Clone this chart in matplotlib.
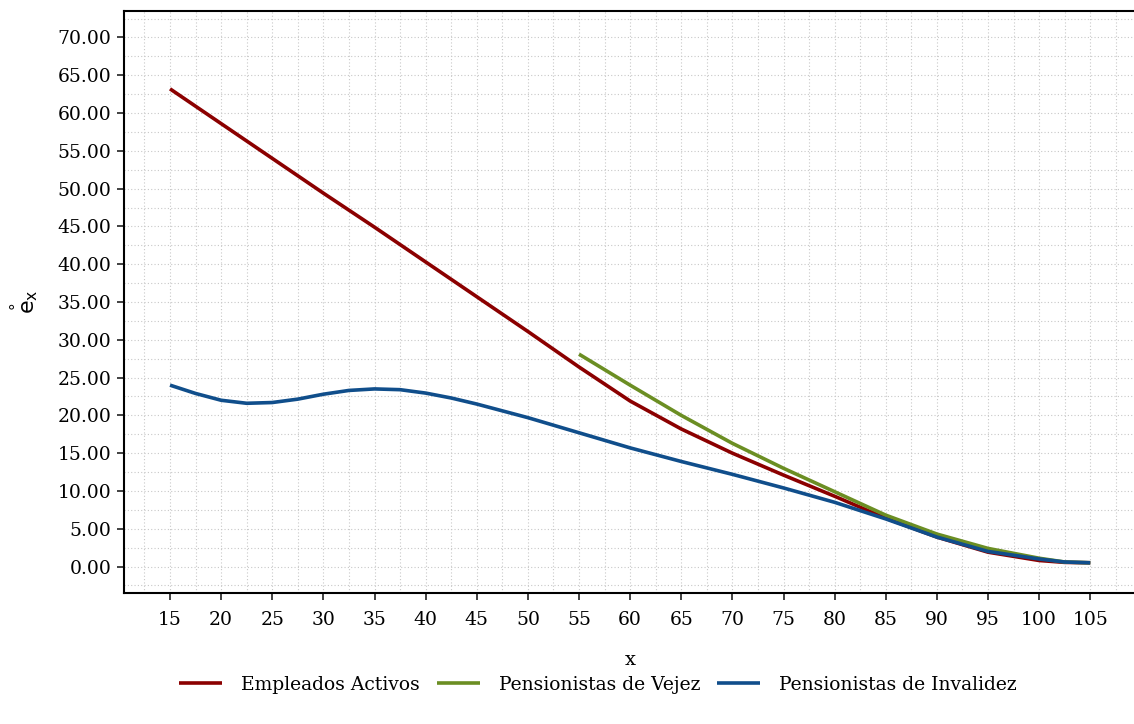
import matplotlib
matplotlib.use("Agg")
import matplotlib.pyplot as plt
from matplotlib.ticker import MultipleLocator, FormatStrFormatter

plt.rcParams['font.family'] = ['DejaVu Serif']
plt.rcParams['mathtext.fontset'] = 'dejavusans'

### esperanza de vida por edad
edad_act = [15, 20, 25, 30, 35, 40, 45, 50, 55, 60, 65, 70, 75, 80, 85, 90, 95, 100, 102.5, 105]
ex_activos = [63.2, 58.6, 54.0, 49.4, 44.9, 40.3, 35.7, 31.1, 26.4, 21.9, 18.2, 15.0, 12.1,
              9.3, 6.4, 3.9, 1.9, 0.8, 0.55, 0.5]

edad_vej = [55, 60, 65, 70, 75, 80, 85, 90, 95, 100, 102.5, 105]
ex_vejez = [28.1, 24.0, 20.0, 16.3, 13.0, 9.9, 6.8, 4.3, 2.4, 1.1, 0.6, 0.5]

edad_inv = [15, 17.5, 20, 22.5, 25, 27.5, 30, 32.5, 35, 37.5, 40, 42.5, 45, 47.5, 50, 52.5,
            55, 60, 65, 70, 75, 80, 85, 90, 95, 100, 102.5, 105]
ex_invalidez = [24.0, 22.9, 22.0, 21.6, 21.7, 22.15, 22.8, 23.3, 23.5, 23.4, 22.95, 22.3,
                21.5, 20.6, 19.7, 18.7, 17.7, 15.7, 13.9, 12.2, 10.4, 8.5, 6.3, 3.9, 2.0,
                1.0, 0.6, 0.5]

series = ["Empleados Activos", "Pensionistas de Vejez", "Pensionistas de Invalidez"]
colores = ["#8B0000", "#6B8E23", "#104E8B"]

fig = plt.figure(figsize=(11.34, 7.24), dpi=100)
ax = fig.add_axes([124 / 1134, 1 - 593 / 724, 1 - 124 / 1134 + 0.002, 582 / 724])

for xs, ys, c, nombre in [(edad_act, ex_activos, colores[0], series[0]),
                          (edad_vej, ex_vejez, colores[1], series[1]),
                          (edad_inv, ex_invalidez, colores[2], series[2])]:
    ax.plot(xs, ys, color=c, lw=2.6, label=nombre, solid_capstyle='butt',
            solid_joinstyle='round')

ax.set_xlim(10.5, 109.5)
ax.set_ylim(-3.5, 73.5)
ax.xaxis.set_major_locator(MultipleLocator(5))
ax.xaxis.set_minor_locator(MultipleLocator(2.5))
ax.yaxis.set_major_locator(MultipleLocator(5))
ax.yaxis.set_minor_locator(MultipleLocator(2.5))
ax.yaxis.set_major_formatter(FormatStrFormatter('%.2f'))
ax.set_xticks(range(15, 106, 5))

ax.grid(which='both', color='#c8c8c8', linestyle=(0, (1, 2)), linewidth=0.8)
ax.set_axisbelow(True)
ax.tick_params(which='major', direction='out', length=5, width=1.3, color='#333333',
               labelsize=13.5, labelcolor='black')
ax.tick_params(axis='x', which='major', pad=8)
ax.tick_params(axis='y', which='major', pad=4)
ax.tick_params(which='minor', length=0)

for s in ['left', 'bottom', 'top']:
    ax.spines[s].set_linewidth(1.5)
    ax.spines[s].set_color('black')
ax.spines['right'].set_visible(False)

ax.set_xlabel('x', fontsize=14, labelpad=16)
ax.set_ylabel(r'$\overset{\circ}{\mathrm{e}}_{\mathrm{x}}$', fontsize=16, labelpad=12)

fig.legend(loc='center', bbox_to_anchor=(598 / 1134, 1 - 685 / 724), ncol=3, frameon=False,
           fontsize=13.5, handlelength=2.3, columnspacing=0.9, handletextpad=1.0)

plt.savefig('out.png', dpi=100)
